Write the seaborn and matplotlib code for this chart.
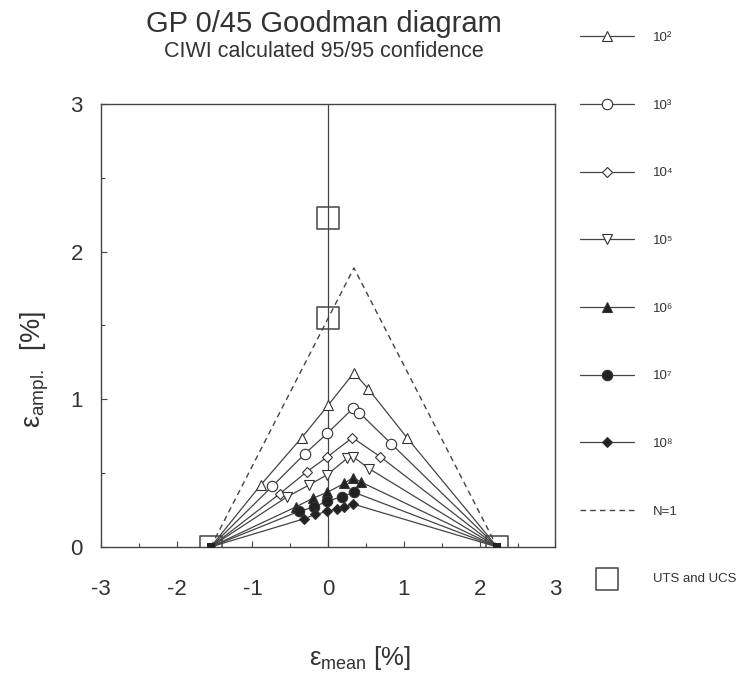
import matplotlib
matplotlib.use("Agg")
import matplotlib.pyplot as plt
import pandas as pd
import seaborn as sns

# static strength points (UCS on the left, UTS on the right)
UCS = -1.55
UTS = 2.23
STATIC_X = [0.0, 0.0, UCS, UTS]
STATIC_Y = [UTS, -UCS, 0.0, 0.0]

# N=1 line
N1_X = [UCS, 0.34, UTS]
N1_Y = [0.0, 1.89, 0.0]

# fatigue data per cycle count (mean strain, amplitude strain)
X_E2 = [-0.89, -0.35, 0.00, 0.34, 0.53, 1.04]
Y_E2 = [0.42, 0.74, 0.96, 1.18, 1.07, 0.74]
X_E3 = [-0.74, -0.31, -0.01, 0.33, 0.41, 0.83]
Y_E3 = [0.41, 0.63, 0.77, 0.94, 0.91, 0.70]
X_E4 = [-0.64, -0.28, -0.01, 0.32, 0.69]
Y_E4 = [0.36, 0.51, 0.61, 0.74, 0.61]
X_E5 = [-0.54, -0.25, -0.01, 0.25, 0.33, 0.54]
Y_E5 = [0.34, 0.42, 0.49, 0.60, 0.61, 0.53]
X_E6 = [-0.43, -0.20, -0.01, 0.21, 0.33, 0.43]
Y_E6 = [0.27, 0.33, 0.37, 0.43, 0.47, 0.44]
X_E7 = [-0.39, -0.19, -0.01, 0.18, 0.34]
Y_E7 = [0.24, 0.27, 0.31, 0.34, 0.37]
X_E8 = [-0.32, -0.17, -0.01, 0.12, 0.21, 0.33]
Y_E8 = [0.19, 0.22, 0.24, 0.26, 0.27, 0.29]

SERIES = [
    ("10²", X_E2, Y_E2, "^", "white"),
    ("10³", X_E3, Y_E3, "o", "white"),
    ("10⁴", X_E4, Y_E4, "D", "white"),
    ("10⁵", X_E5, Y_E5, "v", "white"),
    ("10⁶", X_E6, Y_E6, "^", "#222222"),
    ("10⁷", X_E7, Y_E7, "o", "#222222"),
    ("10⁸", X_E8, Y_E8, "D", "#222222"),
]
MARKER_SIZE = {"^": 7.5, "o": 7.5, "D": 5, "v": 7.5}

INK = "#444444"

sns.set_theme(style="ticks")
plt.rcParams["font.family"] = ["Liberation Sans", "DejaVu Sans"]
plt.rcParams["mathtext.fontset"] = "custom"
plt.rcParams["mathtext.rm"] = "Liberation Sans"
plt.rcParams["mathtext.it"] = "Liberation Sans"
plt.rcParams["axes.unicode_minus"] = False

fig = plt.figure(figsize=(7.4, 6.76), dpi=100)
ax = fig.add_axes([0.1365, 0.191, 0.614, 0.655])

# vertical axis line at mean = 0
ax.axvline(0, color=INK, lw=0.9, zorder=1)

for label, xs, ys, marker, face in SERIES:
    df = pd.DataFrame({"x": [UCS] + xs + [UTS], "y": [0.0] + ys + [0.0]})
    sns.lineplot(
        data=df, x="x", y="y", ax=ax, estimator=None, sort=False,
        color=INK, lw=0.9, marker=marker, markersize=MARKER_SIZE[marker],
        markerfacecolor=face, markeredgecolor="#333333", markeredgewidth=0.8,
        markevery=slice(1, len(df) - 1), label=label, zorder=3,
    )

n1 = pd.DataFrame({"x": N1_X, "y": N1_Y})
sns.lineplot(data=n1, x="x", y="y", ax=ax, estimator=None, sort=False,
             color=INK, lw=1.0, linestyle=(0, (4, 3)), label="N=1", zorder=2)

static = pd.DataFrame({"x": STATIC_X, "y": STATIC_Y})
sns.scatterplot(data=static, x="x", y="y", ax=ax, marker="s", s=240,
                facecolor="none", edgecolor=INK, linewidth=1.1,
                label="UTS and UCS", zorder=4)
ends = pd.DataFrame({"x": [UCS, UTS], "y": [0.0, 0.0]})
sns.scatterplot(data=ends, x="x", y="y", ax=ax, marker="s", s=40,
                color="#222222", linewidth=0, zorder=5)

ax.set_xlim(-3, 3)
ax.set_ylim(0, 3)
ax.set_xticks([-3, -2, -1, 0, 1, 2, 3])
ax.set_xticks([-2.5, -1.5, -0.5, 0.5, 1.5, 2.5], minor=True)
ax.set_yticks([0, 1, 2, 3])
ax.set_yticks([0.5, 1.5, 2.5], minor=True)
ax.tick_params(axis="both", which="both", direction="in", colors=INK,
               labelcolor="#333333", labelsize=16)
ax.tick_params(axis="both", which="major", length=4, width=0.8)
ax.tick_params(axis="both", which="minor", length=3, width=0.8)
ax.tick_params(axis="x", pad=23)
ax.tick_params(axis="y", pad=13)
for spine in ax.spines.values():
    spine.set_color(INK)
    spine.set_linewidth(1.0)

ax.set_xlabel(r"ε$_{\mathrm{mean}}$ [%]", fontsize=18.5, color="#333333")
ax.set_ylabel(r"ε$_{\mathrm{ampl.}}$  [%]", fontsize=19.5, color="#333333")
ax.xaxis.set_label_coords(0.57, -0.22)
ax.yaxis.set_label_coords(-0.11, 0.4)

fig.text(0.438, 0.965, "GP 0/45 Goodman diagram", ha="center", va="center",
         fontsize=21, color="#333333")
fig.text(0.438, 0.924, "CIWI calculated 95/95 confidence", ha="center",
         va="center", fontsize=15.5, color="#333333")

ax.get_legend().remove()
handles, labels = ax.get_legend_handles_labels()
fig.legend(handles, labels, loc="upper left", bbox_to_anchor=(0.784, 0.953),
           frameon=False, fontsize=9.5, handlelength=4.1, handletextpad=1.4,
           labelspacing=4.2, borderpad=0, borderaxespad=0,
           labelcolor="#333333")

fig.savefig("out.png", dpi=100, facecolor="white")
plt.close(fig)
